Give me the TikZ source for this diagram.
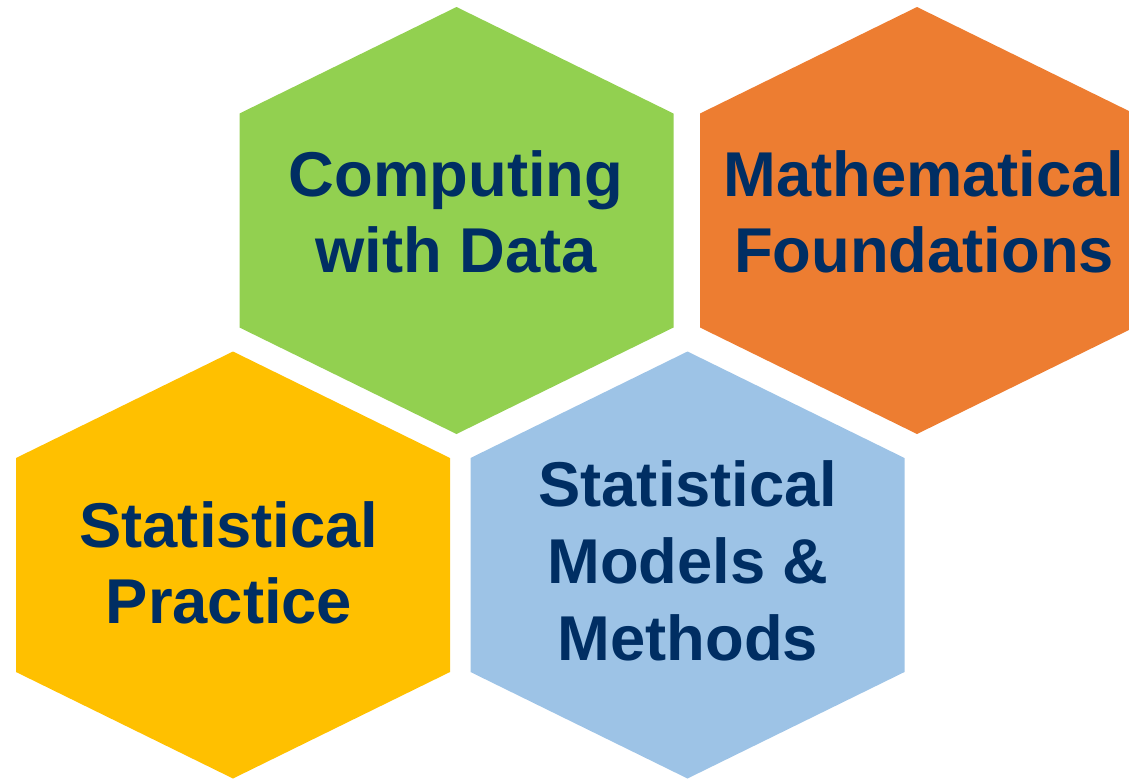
\documentclass[tikz,border=0pt]{standalone}
\usepackage{fontspec}
\setmainfont{Liberation Sans}

\definecolor{hexgreen}{HTML}{92D050}
\definecolor{hexorange}{HTML}{ED7D31}
\definecolor{hexyellow}{HTML}{FFC000}
\definecolor{hexblue}{HTML}{9DC3E6}
\definecolor{labelnavy}{HTML}{002E63}

\tikzset{
  hexa/.pic={
    \fill[pic actions] (0,-213.5) -- (217,-107) -- (217,107)
      -- (0,213.5) -- (-217,107) -- (-217,-107) -- cycle;
  },
  area/.style={font=\fontsize{47.5}{57.5}\selectfont\bfseries,
    text=labelnavy, align=center, inner sep=0pt},
}

\begin{document}
\begin{tikzpicture}[x=0.75pt, y=-0.75pt]

\useasboundingbox (0,0) rectangle (1129,779);
\clip (0,0) rectangle (1129,779);

% the four hexagons
\pic[fill=hexgreen]  at (456.5,220.5) {hexa};
\pic[fill=hexorange] at (917,220.5)   {hexa};
\pic[fill=hexyellow] at (233,565)     {hexa};
\pic[fill=hexblue]   at (687.5,565)   {hexa};

% their labels
\begin{scope}[every node/.style={area}]
\node(computing) at(456,212)   {Computing\\with Data};
\node(maths)     at(924,212)   {Mathematical\\Foundations};
\node(practice)  at(229,563)   {Statistical\\Practice};
\node(models)    at(688,561)   {Statistical\\Models \&\\Methods};
\end{scope}

\end{tikzpicture}
\end{document}
